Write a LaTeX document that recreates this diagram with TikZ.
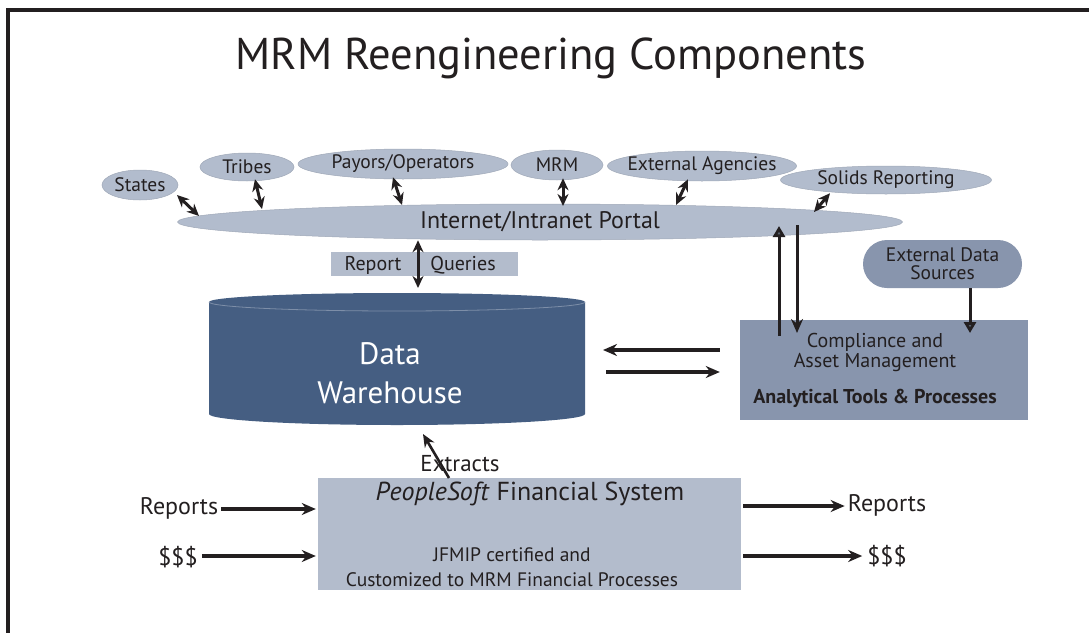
\documentclass[tikz,border=0pt]{standalone}
\usepackage{fontspec}
\setmainfont{PT Sans}
\usetikzlibrary{shapes.geometric,arrows.meta,calc}
\definecolor{bubc}{RGB}{178,188,205}
\definecolor{anac}{RGB}{136,149,173}
\definecolor{dwc}{RGB}{69,94,130}
\definecolor{boxc}{RGB}{179,188,204}
\definecolor{inkc}{RGB}{35,31,32}
\definecolor{tipg}{RGB}{90,100,112}
\newcommand\zw[1]{\makebox[0pt]{#1}}
\begin{document}
\begin{tikzpicture}[x=1pt,y=-1pt,
  every node/.style={text=inkc},
  bub/.style={ellipse, fill=bubc, draw=bubc!90!black, line width=0.5pt, inner sep=0pt, font=\fontsize{19.5}{21}\selectfont},
  arr/.style={-{Stealth[length=14pt,width=12pt]}, line width=3.4pt, draw=inkc},
  dbl/.style={{Stealth[length=12pt,width=11pt]}-{Stealth[length=12pt,width=11pt]}, line width=3pt, draw=inkc},
  garr/.style={-{Triangle[length=11pt,width=12pt,fill=tipg]}, line width=3pt, draw=inkc},
  lbl/.style={inner sep=0pt, font=\fontsize{24}{26}\selectfont}
]
\useasboundingbox (0,0) rectangle (1089,632);
\fill[white] (0,0) rectangle (1089,632);
% frame
\draw[line width=3.5pt, draw=inkc] (8,633) -- (8,10) -- (1090,10);

% title
\node[font=\fontsize{44.5}{48}\selectfont] (title) at (551,58) {MRM Reengineering Components};

% portal and stakeholder ellipses
\node[bub, minimum width=725pt, minimum height=36pt, font=\fontsize{24}{26}\selectfont] (portal) at (540,222) {\zw{Internet/Intranet Portal}};
\node[bub, minimum width=76pt, minimum height=30pt] (states) at (140,185) {\zw{States}};
\node[bub, minimum width=94pt, minimum height=28pt] (tribes) at (247,167) {\zw{Tribes}};
\node[bub, minimum width=210pt, minimum height=30pt] (payors) at (403,164) {\zw{Payors/Operators}};
\node[bub, minimum width=189pt, minimum height=30pt] (extag) at (702,166) {\zw{External Agencies}};
\node[bub, minimum width=92pt, minimum height=30pt] (mrm) at (557,165) {\zw{MRM}};
\node[bub, minimum width=211pt, minimum height=28pt] (solids) at (886,180) {\zw{Solids Reporting}};

\coordinate (sS) at (177,195);
\coordinate (pS) at (199,216);
\coordinate (pT) at (262,209);
\coordinate (pP) at (402,205);
\coordinate (pM) at (563,206);
\coordinate (pE) at (676,205);
\coordinate (pR) at (814,212);
\draw[dbl] (sS) -- (pS);
\draw[dbl] ($(tribes.south)+(8,-2)$) -- (pT);
\draw[dbl] ($(payors.south)+(-10,-2)$) -- (pP);
\draw[dbl] ($(mrm.south)+(6,-2)$) -- (pM);
\draw[dbl] ($(extag.south)+(-14,-2)$) -- (pE);
\draw[dbl] ($(solids.south)+(-56,-1)$) -- (pR);

% report / queries box
\node[fill=boxc, minimum width=187pt, minimum height=24pt, inner sep=0pt] (rq) at (424.5,264) {};
\node[font=\fontsize{20}{22}\selectfont, inner sep=0pt] (rep) at (373,265) {Report};
\node[font=\fontsize{20}{22}\selectfont, inner sep=0pt] (que) at (463,265) {Queries};

% data warehouse cylinder
\fill[dwc] (209,302) -- (209,414) arc[start angle=180, end angle=0, x radius=188, y radius=11]
  -- (585,302) arc[start angle=0, end angle=-180, x radius=188, y radius=9] -- cycle;
\draw[dwc!70!white, line width=0.8pt] (209,302) arc[start angle=180, end angle=0, x radius=188, y radius=9];
\node[font=\fontsize{31}{39}\selectfont, align=center, text=white] (dw) at (390,373) {Data\\Warehouse};
\coordinate (dwtop) at (418,288);
\coordinate (dwbot) at (423,434);
\draw[dbl] (portal.south -| dwtop) -- (dwtop);

% analytical box
\node[fill=anac, minimum width=288pt, minimum height=100pt, inner sep=0pt] (ana) at (884,370) {};
\node[font=\fontsize{20}{20}\selectfont, align=center, inner sep=0pt] (comp) at (875,352) {Compliance and\\Asset Management};
\node[font=\bfseries\fontsize{20}{22}\selectfont, inner sep=0pt] (atp) at (875,398) {Analytical Tools \& Processes};

% external data sources
\node[fill=anac, rounded corners=24pt, minimum width=159pt, minimum height=48pt, inner sep=0pt, align=center, font=\fontsize{19.5}{18}\selectfont] (eds) at (942.5,264) {External Data\\Sources};
\coordinate (edsin) at (970,333);
\draw[garr] (eds.south -| edsin) -- (edsin);

% portal <-> analytical
\coordinate (upb) at (779,336);
\coordinate (upt) at (779,226);
\coordinate (dnt) at (797,225);
\coordinate (dnb) at (797,333);
\draw[garr] (upb) -- (upt);
\draw[-{Stealth[length=14pt,width=12pt]}, line width=3pt, draw=inkc] (dnt) -- (dnb);

% warehouse <-> analytical
\coordinate (la) at (603,350);
\coordinate (ra) at (606,372);
\draw[arr] (ana.west |- la) ++(-20,0) -- (la);
\draw[arr] (ra) -- ($(ana.west |- ra)+(-20,0)$);

% peoplesoft box
\node[fill=boxc, minimum width=423pt, minimum height=112pt, inner sep=0pt] (ps) at (529.5,534) {};
\node[font=\fontsize{26}{28}\selectfont, inner sep=0pt] (pst) at (530,494) {\textit{PeopleSoft} Financial System};
\node[font=\fontsize{19.5}{25}\selectfont, align=center, inner sep=0pt] (jf) at (512,567) {JFMIP certified and\\Customized to MRM Financial Processes};

% extracts
\node[font=\fontsize{23}{25}\selectfont, inner sep=0pt] (ext) at (460,464) {Extracts};
\coordinate (exs) at (449,478);
\draw[-{Stealth[length=13pt,width=11pt]}, line width=2.6pt, draw=inkc] (exs) -- (dwbot);

% left inputs
\node[lbl] (repL) at (179,508) {Reports};
\node[lbl] (dolL) at (178,557) {\$\$\$};
\draw[arr] (repL.east) ++(3,1) -- ($(ps.west |- repL)+(-2,1)$);
\draw[arr] (dolL.east) ++(4,-1) -- ($(ps.west |- dolL)+(-2,-1)$);

% right outputs
\node[lbl] (repR) at (887,505) {Reports};
\node[lbl] (dolR) at (887,556) {\$\$\$};
\draw[arr] ($(ps.east |- repR)+(2,1)$) -- ($(repR.west)+(-3,1)$);
\draw[arr] ($(ps.east |- dolR)+(2,0)$) -- ($(dolR.west)+(-5,0)$);
\end{tikzpicture}
\end{document}
